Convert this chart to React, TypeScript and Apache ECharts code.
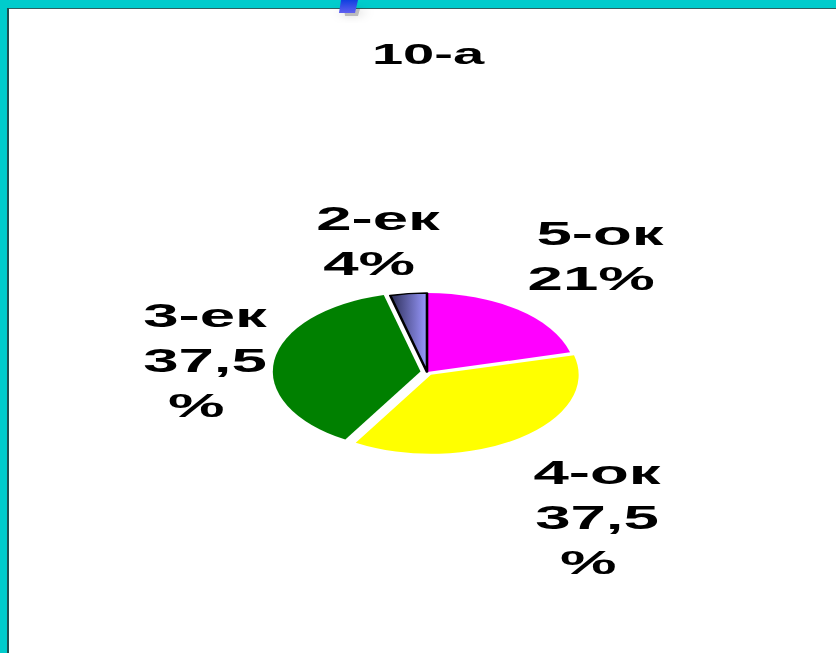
import React, { useEffect, useRef } from "react";
import * as echarts from "echarts";

const titleText = "10-а";
const categories = ["5-ок", "4-ок", "3-ек", "2-ек"];
const values = [21, 37.5, 37.5, 4];
const valueLabels = ["21% ", "37,5\n% ", "37,5\n% ", "4% "];
const sliceColors = ["#ff00ff", "#ffff00", "#008000", "#9999ff"];

// The reference is a picture stretched sideways: the chart is laid out narrow and widened as a whole.
const STRETCH = 1.87;
const W = 836 / STRETCH;
const H = 653;
const px = (x: number) => x / STRETCH;
const labelCentres: [number, number][] = [
  [600, 256],
  [597, 517],
  [205, 360],
  [378, 241],
];
const TEAL = "#00cccc";

export default function App() {
  const ref = useRef<HTMLDivElement>(null);
  useEffect(() => {
    const chart = echarts.init(ref.current!, undefined, { renderer: "svg", width: W, height: H });
    const textStyle = {
      fontFamily: "'Liberation Sans', Arial, sans-serif",
      fontWeight: "bold" as const,
      fontSize: 34,
      color: "#000",
      lineHeight: 45,
    };
    const pieBase = {
      type: "pie",
      center: [px(427), 372],
      radius: [0, 79],
      startAngle: 90,
      clockwise: true,
      avoidLabelOverlap: false,
      silent: true,
      emphasis: { disabled: true },
      labelLine: { show: false },
    };
    chart.setOption({
      animation: false,
      backgroundColor: "#ffffff",
      title: {
        text: titleText,
        left: px(428),
        top: 31,
        padding: 0,
        textAlign: "center",
        textStyle: { ...textStyle, fontSize: 30 },
      },
      graphic: [
        { type: "rect", silent: true, z: 0, shape: { x: 0, y: 0, width: W, height: 8 }, style: { fill: TEAL } },
        { type: "rect", silent: true, z: 0, shape: { x: 0, y: 0, width: px(7), height: H }, style: { fill: TEAL } },
        { type: "rect", silent: true, z: 0, shape: { x: px(7), y: 8, width: W, height: 1 }, style: { fill: "#2f5f60" } },
        { type: "rect", silent: true, z: 0, shape: { x: px(7), y: 8, width: px(2), height: H }, style: { fill: "#1f4f50" } },
        {
          type: "polygon",
          silent: true,
          z: 1,
          shape: { points: [[px(344), 9], [px(360), 9], [px(358), 16], [px(345), 16]] },
          style: { fill: "rgba(150,150,150,0.6)", shadowBlur: 8, shadowColor: "rgba(0,0,0,0.35)" },
        },
        {
          type: "polygon",
          silent: true,
          z: 2,
          shape: { points: [[px(341), 0], [px(358), 0], [px(355), 13], [px(339), 13]] },
          style: {
            fill: new echarts.graphic.LinearGradient(0, 0, 0, 1, [
              { offset: 0, color: "#1040e0" },
              { offset: 1, color: "#6060f0" },
            ]),
          },
        },
      ],
      series: [
        {
          ...pieBase,
          selectedMode: "multiple",
          selectedOffset: 3.5,
          label: { show: false },
          data: categories.map((name, i) => ({
            name,
            value: values[i],
            selected: i === 1 || i === 2,
            itemStyle:
              i === 3
                ? {
                    color: new echarts.graphic.LinearGradient(0, 0, 1, 0, [
                      { offset: 0, color: "#2b2d55" },
                      { offset: 1, color: sliceColors[i] },
                    ]),
                    borderColor: "#000",
                    borderWidth: 1.4,
                  }
                : { color: sliceColors[i] },
          })),
        },
        {
          // Same data, no fill: carries the labels, which a selected slice would not place freely.
          ...pieBase,
          itemStyle: { color: "transparent" },
          label: {
            show: true,
            position: "outside",
            align: "center",
            verticalAlign: "middle",
            ...textStyle,
            formatter: (p: any) => `${p.name}\n${valueLabels[p.dataIndex]}`,
          },
          labelLayout: (p: any) => ({
            x: px(labelCentres[p.dataIndex][0]),
            y: labelCentres[p.dataIndex][1],
            align: "center",
            verticalAlign: "middle",
          }),
          data: categories.map((name, i) => ({ name, value: values[i] })),
        },
      ],
    });
    return () => chart.dispose();
  }, []);
  return (
    <div
      ref={ref}
      style={{
        position: "fixed",
        left: 0,
        top: 0,
        width: W,
        height: H,
        transform: `scaleX(${STRETCH})`,
        transformOrigin: "0 0",
      }}
    />
  );
}
